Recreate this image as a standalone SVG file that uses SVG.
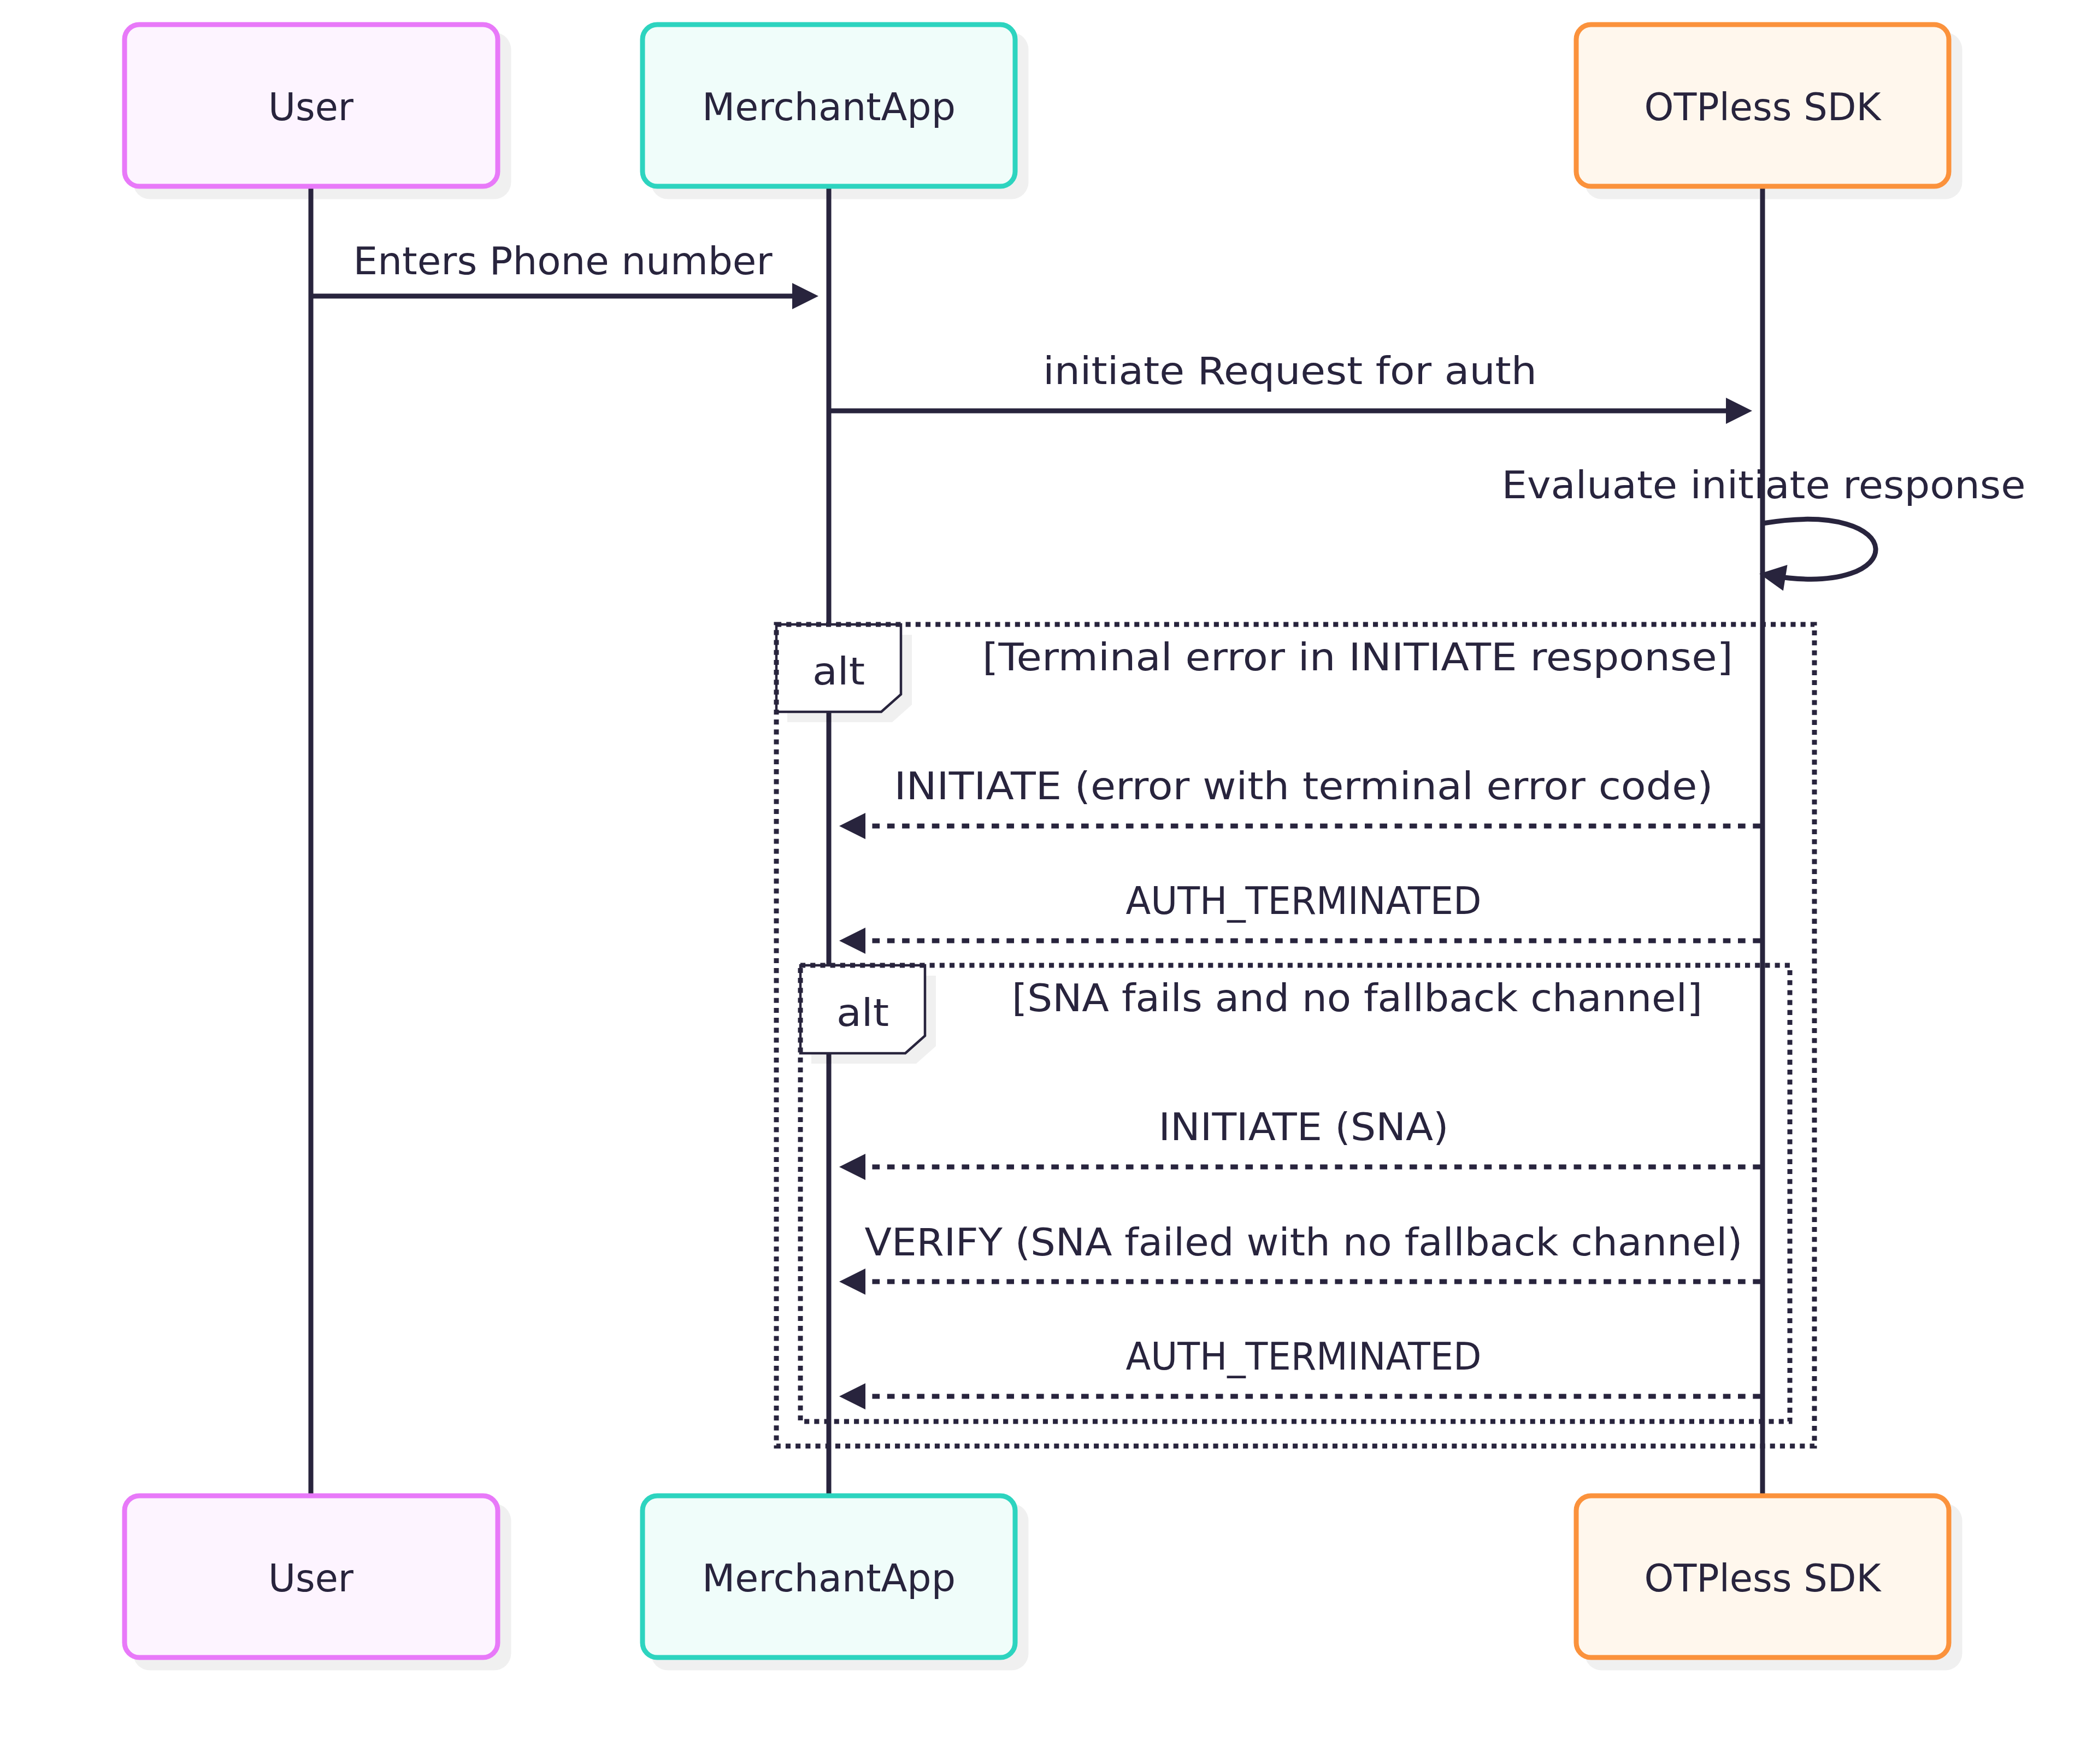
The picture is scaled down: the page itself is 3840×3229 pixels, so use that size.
<svg xmlns="http://www.w3.org/2000/svg" width="3840" height="3229" viewBox="0 0 3840 3229">
<style>
.shadow{fill:#000;fill-opacity:0.06}
.actor{stroke-width:9}
.user{fill:#fdf4ff;stroke:#e879f9}
.merchant{fill:#f0fdfa;stroke:#2dd4bf}
.sdk{fill:#fff7ed;stroke:#fb923c}
text{font-family:"DejaVu Sans","Noto Sans",sans-serif;font-size:70px;fill:#28243d;text-anchor:middle}
.life{stroke:#28243d;stroke-width:9}
.msg{stroke:#28243d;stroke-width:9;fill:none}
.dash{stroke-dasharray:13.66 13.66}
.loopline{stroke:#28243d;stroke-width:9;fill:none;stroke-dasharray:9.1 9.1}
.lbox{fill:#fff;stroke:#28243d;stroke-width:4.5}
</style>
<defs>
<marker id="arrow" viewBox="0 0 10 10" markerUnits="userSpaceOnUse" markerWidth="50" markerHeight="48" refX="5" refY="5" orient="auto-start-reverse">
<path d="M0,0 L10,5 L0,10 z" fill="#28243d"/>
</marker>
</defs>
<rect width="3840" height="3229" fill="#ffffff"/>

<g id="shadows">
<rect class="shadow" x="243.5" y="59.5" width="692" height="305" rx="31"/>
<rect class="shadow" x="1191.5" y="59.5" width="691" height="305" rx="31"/>
<rect class="shadow" x="2900.5" y="59.5" width="691" height="305" rx="31"/>
<rect class="shadow" x="243.5" y="2752.5" width="692" height="305" rx="31"/>
<rect class="shadow" x="1191.5" y="2752.5" width="691" height="305" rx="31"/>
<rect class="shadow" x="2900.5" y="2752.5" width="691" height="305" rx="31"/>
</g>

<g id="lifelines">
<line class="life" x1="569" y1="341" x2="569" y2="2738"/>
<line class="life" x1="1517" y1="341" x2="1517" y2="2738"/>
<line class="life" x1="3226" y1="341" x2="3226" y2="2738"/>
</g>

<g id="actor-user-top"><rect class="actor user" x="228" y="45" width="683" height="296" rx="27"/><text x="569" y="220" textLength="156" lengthAdjust="spacingAndGlyphs">User</text></g>
<g id="actor-merchant-top"><rect class="actor merchant" x="1176" y="45" width="682" height="296" rx="27"/><text x="1517" y="220" textLength="464" lengthAdjust="spacingAndGlyphs">MerchantApp</text></g>
<g id="actor-sdk-top"><rect class="actor sdk" x="2885" y="45" width="682" height="296" rx="27"/><text x="3226" y="220" textLength="433" lengthAdjust="spacingAndGlyphs">OTPless SDK</text></g>
<g id="actor-user-bottom"><rect class="actor user" x="228" y="2738" width="683" height="296" rx="27"/><text x="569" y="2913" textLength="156" lengthAdjust="spacingAndGlyphs">User</text></g>
<g id="actor-merchant-bottom"><rect class="actor merchant" x="1176" y="2738" width="682" height="296" rx="27"/><text x="1517" y="2913" textLength="464" lengthAdjust="spacingAndGlyphs">MerchantApp</text></g>
<g id="actor-sdk-bottom"><rect class="actor sdk" x="2885" y="2738" width="682" height="296" rx="27"/><text x="3226" y="2913" textLength="433" lengthAdjust="spacingAndGlyphs">OTPless SDK</text></g>

<g id="alt-outer">
<polygon class="shadow" points="1441,1162 1669,1162 1669,1290 1633,1322 1441,1322"/>
<polygon class="lbox" points="1421,1143 1649,1143 1649,1271 1613,1303 1421,1303"/>
<rect class="loopline" x="1421" y="1143" width="1900" height="1504"/>
<text x="1535" y="1253" textLength="96" lengthAdjust="spacingAndGlyphs">alt</text>
<text x="2485" y="1227" textLength="1374" lengthAdjust="spacingAndGlyphs">[Terminal error in INITIATE response]</text>
</g>

<g id="alt-inner">
<polygon class="shadow" points="1485,1786 1713,1786 1713,1915 1677,1947 1485,1947"/>
<polygon class="lbox" points="1465,1767 1693,1767 1693,1896 1657,1928 1465,1928"/>
<rect class="loopline" x="1465" y="1767" width="1811" height="835"/>
<text x="1579" y="1878" textLength="96" lengthAdjust="spacingAndGlyphs">alt</text>
<text x="2484" y="1851" textLength="1264" lengthAdjust="spacingAndGlyphs">[SNA fails and no fallback channel]</text>
</g>

<g id="connectors">
<path class="msg" d="M569,542 H1474" marker-end="url(#arrow)"/>
<path class="msg" d="M1521,752 H3183" marker-end="url(#arrow)"/>
<path class="msg" d="M3226,958 C3499,912 3499,1095 3244,1054" marker-end="url(#arrow)"/>
<path class="msg dash" d="M3222,1512 H1560" marker-end="url(#arrow)"/>
<path class="msg dash" d="M3222,1722 H1560" marker-end="url(#arrow)"/>
<path class="msg dash" d="M3222,2136 H1560" marker-end="url(#arrow)"/>
<path class="msg dash" d="M3222,2346 H1560" marker-end="url(#arrow)"/>
<path class="msg dash" d="M3222,2556 H1560" marker-end="url(#arrow)"/>
</g>

<g id="message-labels">
<text x="1030" y="502" textLength="767" lengthAdjust="spacingAndGlyphs">Enters Phone number</text>
<text x="2361" y="703" textLength="904" lengthAdjust="spacingAndGlyphs">initiate Request for auth</text>
<text x="3228" y="912" textLength="959" lengthAdjust="spacingAndGlyphs">Evaluate initiate response</text>
<text x="2386" y="1463" textLength="1499" lengthAdjust="spacingAndGlyphs">INITIATE (error with terminal error code)</text>
<text x="2386" y="1673" textLength="651" lengthAdjust="spacingAndGlyphs">AUTH_TERMINATED</text>
<text x="2386" y="2087" textLength="531" lengthAdjust="spacingAndGlyphs">INITIATE (SNA)</text>
<text x="2386" y="2298" textLength="1607" lengthAdjust="spacingAndGlyphs">VERIFY (SNA failed with no fallback channel)</text>
<text x="2386" y="2507" textLength="651" lengthAdjust="spacingAndGlyphs">AUTH_TERMINATED</text>
</g>
</svg>
